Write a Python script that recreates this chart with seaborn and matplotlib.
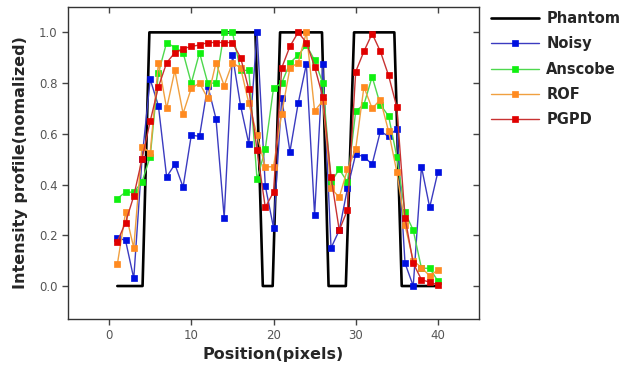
import numpy as np
import pandas as pd
import matplotlib
matplotlib.use("Agg")
import matplotlib.pyplot as plt
import seaborn as sns

sns.set_style("ticks")
plt.rcParams['font.family'] = ['DejaVu Sans']

positions = list(range(1, 41))

phantom_x = [1, 4.07, 4.9, 17.8, 18.7, 19.9, 20.8, 25.9, 26.7, 28.8, 29.8, 34.7, 35.6, 40]
phantom_y = [0, 0, 1, 1, 0, 0, 1, 1, 0, 0, 1, 1, 0, 0]

noisy = [0.19, 0.18, 0.03, 0.50, 0.815, 0.71, 0.43, 0.48, 0.39, 0.595,
         0.59, 0.79, 0.66, 0.27, 0.91, 0.71, 0.56, 1.0, 0.395, 0.23,
         0.74, 0.53, 0.72, 0.875, 0.28, 0.875, 0.15, 0.22, 0.385, 0.52,
         0.51, 0.48, 0.61, 0.59, 0.62, 0.09, 0.0, 0.47, 0.31, 0.45]
anscobe = [0.345, 0.37, 0.37, 0.41, 0.51, 0.84, 0.96, 0.94, 0.92, 0.80,
           0.92, 0.80, 0.80, 1.0, 1.0, 0.85, 0.85, 0.42, 0.54, 0.78,
           0.80, 0.88, 0.91, 0.95, 0.89, 0.80, 0.41, 0.46, 0.41, 0.69,
           0.715, 0.825, 0.715, 0.67, 0.51, 0.29, 0.22, 0.07, 0.07, 0.02]
rof = [0.085, 0.29, 0.15, 0.55, 0.525, 0.88, 0.70, 0.85, 0.68, 0.78,
       0.80, 0.74, 0.88, 0.79, 0.88, 0.86, 0.72, 0.595, 0.47, 0.47,
       0.68, 0.86, 0.88, 1.0, 0.69, 0.73, 0.385, 0.35, 0.46, 0.54,
       0.785, 0.70, 0.735, 0.61, 0.45, 0.24, 0.10, 0.073, 0.04, 0.063]
pgpd = [0.175, 0.25, 0.355, 0.50, 0.65, 0.785, 0.88, 0.92, 0.935, 0.945,
        0.95, 0.96, 0.96, 0.96, 0.96, 0.90, 0.775, 0.535, 0.31, 0.37,
        0.86, 0.945, 1.0, 0.96, 0.865, 0.745, 0.43, 0.22, 0.30, 0.845,
        0.925, 0.995, 0.925, 0.83, 0.705, 0.27, 0.09, 0.025, 0.015, 0.005]

series_names = ["Noisy", "Anscobe", "ROF", "PGPD"]
series_values = [noisy, anscobe, rof, pgpd]
line_colors = ["#3b3bc0", "#4ed84e", "#f0a040", "#c83232"]
marker_colors = ["#0010e0", "#10f010", "#ff8a20", "#e00000"]

xticks = [0, 10, 20, 30, 40]
yticks = [0.0, 0.2, 0.4, 0.6, 0.8, 1.0]

fig = plt.figure(figsize=(6.22, 3.69), dpi=100)
ax = fig.add_axes([68/622, 1 - 319/369, (479-68)/622, (319-7)/369])

sns.lineplot(x=phantom_x, y=phantom_y, ax=ax, color="black", lw=1.9,
             label="Phantom", estimator=None, sort=False)
for name, vals, lc, mc in zip(series_names, series_values, line_colors, marker_colors):
    sns.lineplot(x=positions, y=vals, ax=ax, color=lc, lw=1.0, marker="s",
                 markersize=4.4, markerfacecolor=mc, markeredgecolor=mc,
                 markeredgewidth=0.5, label=name, estimator=None)

ax.set_xlim(-5, 45)
ax.set_ylim(-0.13, 1.1)
ax.set_xticks(xticks)
ax.set_yticks(yticks)
ax.set_xticklabels([str(t) for t in xticks])
ax.set_yticklabels([f"{t:.1f}" for t in yticks])
ax.tick_params(axis="both", which="both", direction="out", length=4, width=1,
               colors="#444444", labelsize=8.5, labelcolor="#555555")
ax.tick_params(top=True, right=True)
for t in ax.xaxis.get_major_ticks():
    t.tick2line.set_marker(matplotlib.markers.TICKDOWN)
for t in ax.yaxis.get_major_ticks():
    t.tick2line.set_marker(matplotlib.markers.TICKLEFT)
for sp in ax.spines.values():
    sp.set_visible(True)
    sp.set_color("#333333")
    sp.set_linewidth(1.0)

ax.set_xlabel("Position(pixels)", fontsize=11.5, fontweight="bold", labelpad=3)
ax.set_ylabel("Intensity profile(nomalized)", fontsize=11.5, fontweight="bold", labelpad=8)

leg = ax.legend(loc="upper left", bbox_to_anchor=(1.015, 1.005), frameon=False,
                fontsize=10.5, handlelength=3.3, handletextpad=0.5,
                labelspacing=0.7, borderaxespad=0)
for txt in leg.get_texts():
    txt.set_fontweight("bold")

fig.savefig("out.png", dpi=100)
